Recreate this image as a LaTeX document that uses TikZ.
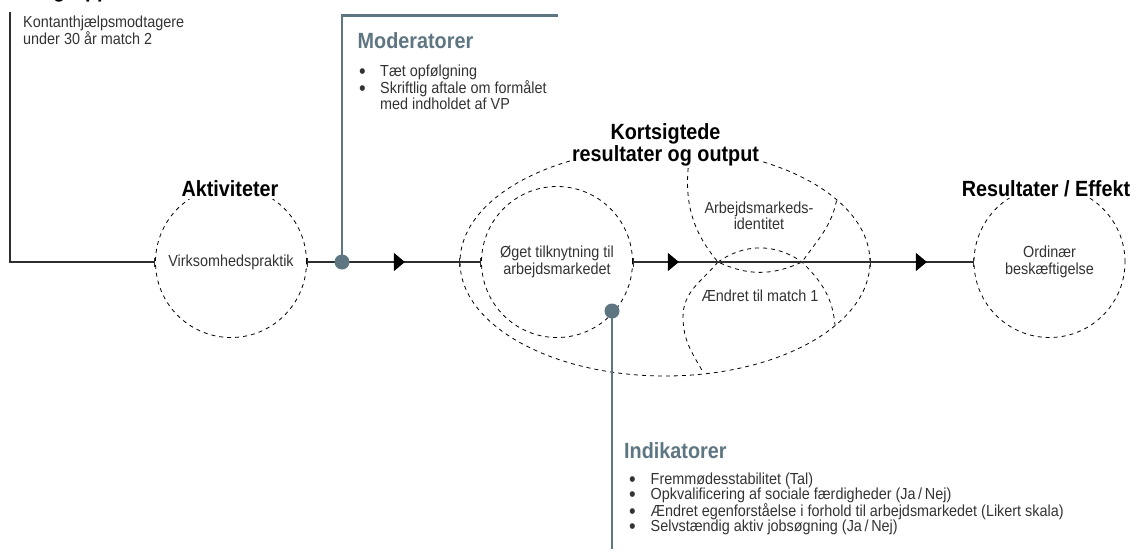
\documentclass[tikz,border=0pt]{standalone}
\usepackage{fontspec}
\setmainfont{Liberation Sans}[FakeStretch=0.9]
\usetikzlibrary{arrows.meta,decorations.markings,shapes.geometric}
\definecolor{slate}{HTML}{5E7582}
\definecolor{ink}{HTML}{333333}
\definecolor{linegray}{HTML}{2E2E2E}
\tikzset{flowtip/.tip={Triangle[length=11pt,width=18pt]}}
% list bullet, set in a hanging box
\newcommand{\listdot}[1]{\makebox[#1][l]{\raisebox{-2pt}{\smash{\fontsize{21}{16}\selectfont\textbullet}}}}
\begin{document}
\begin{tikzpicture}[x=1pt,y=-1pt,
  body/.style={font=\fontsize{16}{16.5}\selectfont, text=ink},
  head/.style={font=\bfseries\fontsize{22}{21.5}\selectfont, text=black, fill=white, inner sep=2pt},
  sidehead/.style={font=\bfseries\fontsize{22}{22}\selectfont, text=slate, inner sep=0pt},
  dashline/.style={draw=black, line width=0.8pt, dash pattern=on 4pt off 4pt},
  bubble/.style={circle, dashline, minimum size=151pt, inner sep=0pt, align=center, body},
  flow/.style={draw=linegray, line width=1.1pt},
  barends/.style={{Bar[width=9pt,line width=0.8pt]}-{Bar[width=9pt,line width=0.8pt]}},
  endbar/.style={-{Bar[width=9pt,line width=0.8pt]}},
  jointick/.style={draw=linegray, line width=0.8pt},
  onearrow/.style={postaction={decorate}, decoration={markings,
      mark=at position #1 with {\arrow[black]{flowtip}}}},
  twoarrows/.style 2 args={postaction={decorate}, decoration={markings,
      mark=at position #1 with {\arrow[black]{flowtip}},
      mark=at position #2 with {\arrow[black]{flowtip}}}},
  modline/.style={draw=slate, line width=2.6pt},
  hub/.style={circle, fill=slate, minimum size=15pt, inner sep=0pt},
  bulletlist/.style={body, align=left, inner sep=0pt, anchor=north west}
]
\useasboundingbox (0,0) rectangle (1146,552);

% --- outcome area: outer egg and the two overlapping zones ---
\node[dashline, ellipse, minimum width=410pt, minimum height=228pt, inner sep=0pt] (short) at (665,262) {};
% upper zone (Arbejdsmarkedsidentitet)
\draw[dashline] (689,160) to[out=-97,in=130] (718,262)
  to[out=-25,in=-155] (802,262)
  to[out=55,in=-100] (837,198);
% lower zone (Aendret til match 1)
\draw[dashline] (718,262) to[out=35,in=145] (802,262)
  to[out=-45,in=95] (835,325);
\draw[dashline] (718,262) to[out=-130,in=90] (683,317)
  to[out=-90,in=120] (703,372);

% --- circles ---
\node[bubble] (akt) at (231,262) {Virksomhedspraktik};
\node[bubble] (gain) at (557,262) {Øget tilknytning til\\arbejdsmarkedet};
\node[bubble] (res) at (1049.5,262) {Ordinær\\beskæftigelse};
\node[body, align=center] (ident) at (759,216) {Arbejdsmarkeds-\\identitet};
\node[body] (match) at (760,296) {Ændret til match 1};

% --- headings ---
\node[head, anchor=base] (akthead) at (230,196.5) {Aktiviteter};
\node[head, anchor=base] (effhead) at (1046,196) {Resultater / Effekt};
\node[head, align=center, anchor=south] (shorthead) at (665.5,168) {Kortsigtede\\resultater og output};

% --- target group ---
\coordinate (src) at (10,12);
\node[anchor=base west, font=\bfseries\fontsize{22}{22}\selectfont, inner sep=0pt] (goalhead) at (20,-2.5) {Målgruppe};
\node[bulletlist] (goal) at (23,16) {Kontanthjælpsmodtagere\\under 30 år match 2};

% --- main flow ---
\draw[flow, endbar] (src) |- (akt.west);
\draw[flow, barends, onearrow=98pt] (akt.east) -- (gain.west);
\draw[flow, barends, twoarrows={46pt}{294pt}] (gain.east) -- (res.west);
\draw[jointick] ([yshift=-4.5pt]short.west) -- ([yshift=4.5pt]short.west);
\draw[jointick] ([yshift=-4.5pt]short.east) -- ([yshift=4.5pt]short.east);

% --- moderators ---
\coordinate (modpt) at (342,262);
\coordinate (modend) at (558,15.5);
\draw[modline] (modpt) |- (modend);
\node[hub] (modhub) at (modpt) {};
\node[sidehead, anchor=base west] (modhead) at (357.5,48.5) {Moderatorer};
\node[bulletlist] (modlist) at (359,65) {%
  \listdot{21pt}Tæt opfølgning\\
  \listdot{21pt}Skriftlig aftale om formålet\\
  \hspace*{21pt}med indholdet af VP};

% --- indicators ---
\coordinate (indpt) at (612,311);
\coordinate (indend) at (612,549);
\draw[modline] (indpt) -- (indend);
\node[hub] (indhub) at (indpt) {};
\node[sidehead, anchor=base west] (indhead) at (624,458) {Indikatorer};
\node[bulletlist, font=\fontsize{16}{15}\selectfont] (indlist) at (629,472.3) {%
  \listdot{21.5pt}Fremmødesstabilitet (Tal)\\
  \listdot{21.5pt}Opkvalificering af sociale færdigheder (Ja\,/\,Nej)\\
  \listdot{21.5pt}Ændret egenforståelse i forhold til arbejdsmarkedet (Likert skala)\\
  \listdot{21.5pt}Selvstændig aktiv jobsøgning (Ja\,/\,Nej)};
\end{tikzpicture}
\end{document}
